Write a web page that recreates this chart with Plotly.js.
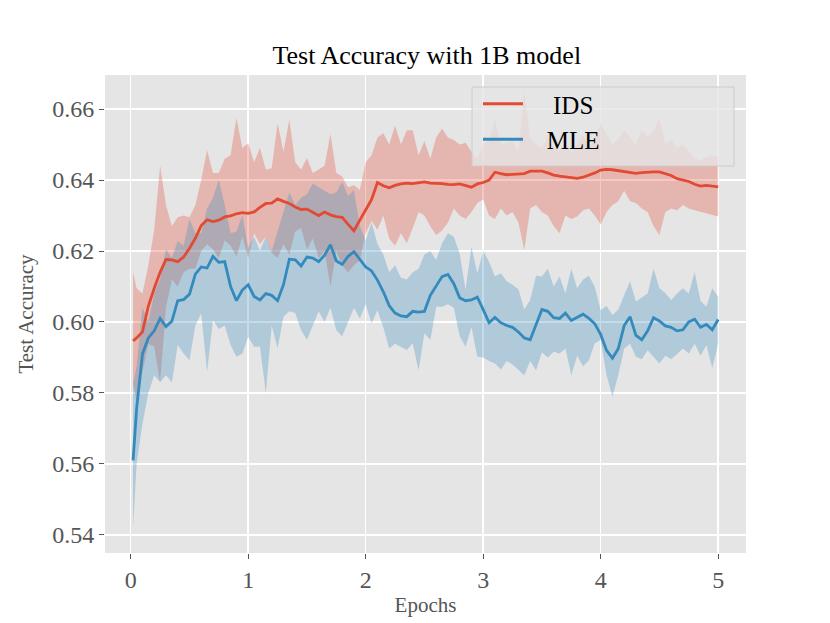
<!DOCTYPE html>
<html>
<head>
<meta charset="utf-8">
<script src="https://cdn.plot.ly/plotly-3.0.1.min.js"></script>
<style>html,body{margin:0;padding:0;background:#fff;}#chart{width:830px;height:623px;}</style>
</head>
<body>
<div id="chart"></div>
<script>
// Epochs (x positions of evaluation points)
const epochs = [0.02,0.05,0.1,0.15,0.2,0.25,0.3,0.35,0.4,0.45,
  0.5,0.55,0.6,0.65,0.7,0.75,0.8,0.85,0.9,0.95,
  1.0,1.05,1.1,1.15,1.2,1.25,1.3,1.35,1.4,1.45,
  1.5,1.55,1.6,1.65,1.7,1.75,1.8,1.85,1.9,1.95,
  2.0,2.05,2.1,2.15,2.2,2.25,2.3,2.35,2.4,2.45,
  2.5,2.55,2.6,2.65,2.7,2.75,2.8,2.85,2.9,2.95,
  3.0,3.05,3.1,3.15,3.2,3.25,3.3,3.35,3.4,3.45,
  3.5,3.55,3.6,3.65,3.7,3.75,3.8,3.85,3.9,3.95,
  4.0,4.05,4.1,4.15,4.2,4.25,4.3,4.35,4.4,4.45,
  4.5,4.55,4.6,4.65,4.7,4.75,4.8,4.85,4.9,4.95,
  5.0];

// IDS mean test accuracy
const idsMean = [0.5947,0.5955,0.5972,0.6045,0.6095,0.6140,0.6176,0.6175,0.6170,0.6183,
  0.6208,0.6236,0.6272,0.6288,0.6283,0.6287,0.6296,0.6299,0.6305,0.6308,
  0.6306,0.6310,0.6323,0.6334,0.6335,0.6347,0.6340,0.6334,0.6324,0.6317,
  0.6318,0.6309,0.6300,0.6310,0.6302,0.6297,0.6295,0.6275,0.6257,0.6287,
  0.6314,0.6345,0.6393,0.6384,0.6378,0.6385,0.6389,0.6391,0.6390,0.6393,
  0.6395,0.6391,0.6391,0.6390,0.6388,0.6387,0.6389,0.6384,0.6380,0.6389,
  0.6393,0.6400,0.6422,0.6418,0.6415,0.6416,0.6417,0.6418,0.6425,0.6426,
  0.6425,0.6420,0.6414,0.6411,0.6409,0.6407,0.6405,0.6408,0.6413,0.6420,
  0.6428,0.6430,0.6429,0.6426,0.6423,0.6421,0.6419,0.6421,0.6423,0.6423,
  0.6423,0.6418,0.6413,0.6404,0.6400,0.6396,0.6388,0.6383,0.6385,0.6382,
  0.6381];

// IDS band upper edge
const idsHi = [0.6140,0.6095,0.6080,0.6160,0.6260,0.6440,0.6330,0.6270,0.6295,0.6300,
  0.6295,0.6330,0.6400,0.6485,0.6420,0.6420,0.6460,0.6470,0.6575,0.6490,
  0.6504,0.6450,0.6490,0.6429,0.6433,0.6560,0.6480,0.6570,0.6450,0.6430,
  0.6462,0.6420,0.6430,0.6440,0.6530,0.6420,0.6410,0.6380,0.6385,0.6372,
  0.6450,0.6470,0.6520,0.6532,0.6500,0.6553,0.6500,0.6540,0.6540,0.6470,
  0.6510,0.6460,0.6520,0.6545,0.6520,0.6513,0.6500,0.6505,0.6480,0.6460,
  0.6499,0.6515,0.6570,0.6500,0.6505,0.6510,0.6480,0.6650,0.6520,0.6500,
  0.6490,0.6522,0.6490,0.6485,0.6508,0.6475,0.6500,0.6527,0.6494,0.6510,
  0.6560,0.6530,0.6500,0.6515,0.6540,0.6520,0.6500,0.6540,0.6520,0.6540,
  0.6575,0.6500,0.6515,0.6490,0.6500,0.6480,0.6460,0.6455,0.6465,0.6468,
  0.6466];

// IDS band lower edge
const idsLo = [0.5826,0.5779,0.5860,0.5939,0.5930,0.5830,0.6040,0.6120,0.6100,0.6140,
  0.6150,0.6150,0.6200,0.6220,0.6205,0.6180,0.6230,0.6215,0.6185,0.6240,
  0.6180,0.6250,0.6220,0.6240,0.6195,0.6180,0.6220,0.6190,0.6255,0.6265,
  0.6205,0.6235,0.6180,0.6200,0.6100,0.6200,0.6160,0.6140,0.6160,0.6175,
  0.6250,0.6285,0.6260,0.6300,0.6235,0.6215,0.6250,0.6222,0.6265,0.6310,
  0.6300,0.6270,0.6245,0.6258,0.6280,0.6320,0.6300,0.6290,0.6310,0.6335,
  0.6345,0.6300,0.6290,0.6320,0.6300,0.6310,0.6280,0.6203,0.6320,0.6330,
  0.6310,0.6300,0.6270,0.6250,0.6300,0.6290,0.6297,0.6315,0.6320,0.6300,
  0.6275,0.6310,0.6330,0.6340,0.6370,0.6340,0.6335,0.6320,0.6310,0.6270,
  0.6245,0.6310,0.6320,0.6315,0.6330,0.6320,0.6315,0.6310,0.6305,0.6300,
  0.6297];

// MLE mean test accuracy
const mleMean = [0.5610,0.5755,0.5910,0.5955,0.5975,0.6010,0.5987,0.6002,0.6060,0.6063,
  0.6078,0.6135,0.6155,0.6152,0.6185,0.6168,0.6170,0.6100,0.6060,0.6090,
  0.6105,0.6072,0.6062,0.6080,0.6075,0.6060,0.6105,0.6177,0.6175,0.6158,
  0.6183,0.6180,0.6170,0.6188,0.6218,0.6172,0.6162,0.6185,0.6198,0.6175,
  0.6155,0.6144,0.6118,0.6085,0.6046,0.6025,0.6017,0.6015,0.6030,0.6028,
  0.6030,0.6075,0.6101,0.6128,0.6134,0.6108,0.6068,0.6060,0.6062,0.6070,
  0.6035,0.5998,0.6013,0.5998,0.5990,0.5985,0.5972,0.5955,0.5950,0.5990,
  0.6035,0.6030,0.6012,0.6010,0.6025,0.6004,0.6014,0.6022,0.6010,0.5995,
  0.5965,0.5920,0.5898,0.5925,0.5990,0.6015,0.5962,0.5950,0.5975,0.6012,
  0.6003,0.5989,0.5985,0.5975,0.5978,0.6000,0.6008,0.5985,0.5993,0.5978,
  0.6007];

// MLE band upper edge
const mleHi = [0.5826,0.5874,0.6040,0.6000,0.6080,0.6120,0.6205,0.6180,0.6228,0.6215,
  0.6290,0.6250,0.6250,0.6320,0.6350,0.6400,0.6330,0.6250,0.6255,0.6300,
  0.6210,0.6240,0.6200,0.6240,0.6200,0.6255,0.6310,0.6365,0.6330,0.6350,
  0.6360,0.6390,0.6380,0.6370,0.6360,0.6365,0.6395,0.6355,0.6372,0.6270,
  0.6230,0.6280,0.6220,0.6190,0.6140,0.6160,0.6125,0.6120,0.6140,0.6150,
  0.6190,0.6200,0.6175,0.6222,0.6250,0.6240,0.6193,0.6090,0.6212,0.6137,
  0.6200,0.6170,0.6128,0.6137,0.6115,0.6105,0.6092,0.6035,0.6062,0.6130,
  0.6128,0.6150,0.6100,0.6128,0.6080,0.6150,0.6095,0.6120,0.6130,0.6099,
  0.6033,0.6045,0.6020,0.6035,0.6075,0.6115,0.6058,0.6068,0.6080,0.6150,
  0.6095,0.6082,0.6062,0.6080,0.6095,0.6080,0.6140,0.6060,0.6043,0.6095,
  0.6071];

// MLE band lower edge
const mleLo = [0.5420,0.5600,0.5714,0.5800,0.5850,0.5830,0.5850,0.5830,0.5935,0.5911,
  0.5892,0.5990,0.6024,0.5860,0.6005,0.5980,0.5990,0.5935,0.5902,0.5911,
  0.5958,0.5930,0.5930,0.5800,0.5990,0.5925,0.6015,0.6030,0.6025,0.5977,
  0.5950,0.5990,0.6030,0.6000,0.6040,0.5977,0.5960,0.6000,0.6040,0.6010,
  0.6050,0.5996,0.6033,0.5985,0.5925,0.5939,0.5930,0.5921,0.5940,0.5864,
  0.5968,0.5949,0.6043,0.6043,0.6050,0.6040,0.5960,0.5930,0.5986,0.5902,
  0.5900,0.5890,0.5883,0.5866,0.5890,0.5880,0.5865,0.5850,0.5890,0.5864,
  0.5915,0.5900,0.5916,0.5911,0.5925,0.5850,0.5905,0.5875,0.5892,0.5940,
  0.5949,0.5850,0.5790,0.5850,0.5925,0.5939,0.5902,0.5895,0.5920,0.5902,
  0.5883,0.5905,0.5895,0.5910,0.5925,0.5911,0.5939,0.5905,0.5935,0.5870,
  0.5939];

const seriesNames = ['IDS', 'MLE'];
const yTicks = [0.54, 0.56, 0.58, 0.60, 0.62, 0.64, 0.66];
const xTicks = [0, 1, 2, 3, 4, 5];

const RED = '#E24A33', BLUE = '#348ABD';
const RED_FILL = 'rgba(226,74,51,0.3)', BLUE_FILL = 'rgba(52,138,189,0.3)';
const NB = '\u00A0';

const traces = [
  {x: epochs, y: idsLo, mode: 'lines', line: {width: 0, color: RED}, showlegend: false, hoverinfo: 'skip'},
  {x: epochs, y: idsHi, mode: 'lines', line: {width: 0, color: RED}, fill: 'tonexty', fillcolor: RED_FILL, showlegend: false, hoverinfo: 'skip'},
  {x: epochs, y: mleLo, mode: 'lines', line: {width: 0, color: BLUE}, showlegend: false, hoverinfo: 'skip'},
  {x: epochs, y: mleHi, mode: 'lines', line: {width: 0, color: BLUE}, fill: 'tonexty', fillcolor: BLUE_FILL, showlegend: false, hoverinfo: 'skip'},
  {x: epochs, y: idsMean, mode: 'lines', name: NB + NB + NB + NB + seriesNames[0], line: {width: 2.8, color: RED}},
  {x: epochs, y: mleMean, mode: 'lines', name: NB + NB + NB + seriesNames[1], line: {width: 2.8, color: BLUE}}
];

const SERIF = '"Liberation Serif", "Times New Roman", Times, serif';
const axisCommon = {
  showgrid: true, gridcolor: '#FFFFFF', gridwidth: 1.5,
  zeroline: false, showline: false,
  ticks: 'outside', ticklen: 5, tickwidth: 1, tickcolor: '#555555',
  tickfont: {family: SERIF, size: 24, color: '#555555'}
};

const layout = {
  width: 830, height: 623,
  paper_bgcolor: '#FFFFFF', plot_bgcolor: '#E5E5E5',
  margin: {l: 105, r: 84, t: 75, b: 70},
  font: {family: SERIF, color: '#555555'},
  title: {text: 'Test Accuracy with 1B model', font: {family: SERIF, size: 26, color: '#000000'},
          x: 0.502, xref: 'paper', xanchor: 'center', y: 1 - 55/623, yref: 'container', yanchor: 'middle'},
  xaxis: Object.assign({}, axisCommon, {
    range: [-0.219, 5.237], tickvals: xTicks, ticktext: xTicks.map(String),
    title: {text: 'Epochs', font: {family: SERIF, size: 21, color: '#555555'}, standoff: 5}
  }),
  yaxis: Object.assign({}, axisCommon, {
    range: [0.5349, 0.6696], tickvals: yTicks, ticktext: yTicks.map(v => v.toFixed(2)),
    title: {text: 'Test Accuracy', font: {family: SERIF, size: 21, color: '#555555'}, standoff: 12}
  }),
  showlegend: true,
  legend: {
    x: (478 - 105) / 641, xanchor: 'left', y: (553 - 81) / 478, yanchor: 'top',
    bgcolor: 'rgba(0,0,0,0)', borderwidth: 0, traceorder: 'normal',
    font: {family: SERIF, size: 25, color: '#000000'},
    itemwidth: 40, tracegroupgap: 0
  },
  shapes: [{
    type: 'rect', xref: 'paper', yref: 'paper', layer: 'above',
    x0: (472 - 105) / 641, x1: (734 - 105) / 641,
    y0: (553 - 166) / 478, y1: (553 - 87) / 478,
    fillcolor: 'rgba(229,229,229,0.8)', line: {color: '#CCCCCC', width: 1}
  }]
};

Plotly.newPlot('chart', traces, layout, {displayModeBar: false, staticPlot: true});
</script>
</body>
</html>
